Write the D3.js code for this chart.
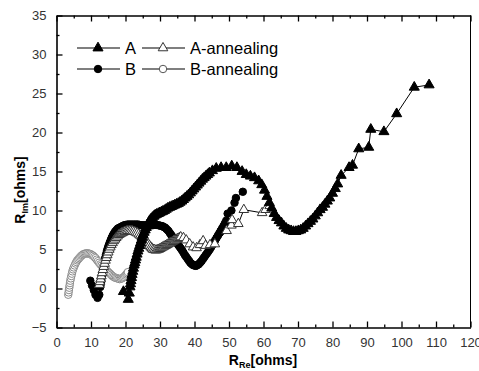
<!DOCTYPE html>
<html>
<head>
<meta charset="utf-8">
<script src="https://cdn.jsdelivr.net/npm/d3@7"></script>
<style>
  body { margin: 0; background: #fff; }
  svg { display: block; font-family: Arial, "Liberation Sans", sans-serif; }
</style>
</head>
<body>
<svg id="chart"></svg>
<script>
// data: [Re, Im]
const seriesA = [[19.4,-0.4],[20.8,-1.4],[21.1,-0.6],[21.3,0.2],[21.45,0.6],[21.6,1.0],[21.75,1.4],[21.9,1.8],[22.1,2.2],[22.3,2.6],[22.5,3.0],[22.7,3.3],[22.9,3.65],[23.1,4.0],[23.35,4.4],[23.6,4.8],[23.85,5.15],[24.1,5.5],[24.35,5.85],[24.6,6.2],[24.85,6.55],[25.1,6.9],[25.4,7.2],[25.7,7.5],[26.0,7.8],[26.3,8.1],[26.65,8.4],[27.0,8.7],[27.4,8.9],[27.8,9.1],[28.2,9.25],[28.6,9.4],[29.0,9.5],[29.5,9.6],[29.9,9.7],[30.4,9.8],[30.85,9.9],[31.3,10.0],[31.8,10.15],[32.3,10.3],[32.8,10.4],[33.3,10.5],[33.8,10.6],[34.3,10.7],[34.8,10.8],[35.3,10.9],[35.8,11.05],[36.3,11.2],[36.8,11.4],[37.3,11.6],[37.8,11.8],[38.3,12.0],[38.8,12.25],[39.3,12.5],[39.8,12.75],[40.3,13.0],[40.8,13.25],[41.3,13.5],[41.8,13.75],[42.3,14.0],[42.8,14.2],[43.3,14.4],[43.8,14.6],[44.3,14.8],[45.2,15.1],[46.3,15.4],[47.7,15.5],[49.2,15.5],[50.8,15.7],[52.3,15.5],[53.8,15.0],[55.0,14.6],[56.2,14.4],[57.4,14.2],[58.6,13.8],[59.5,13.3],[60.3,12.6],[61.0,11.8],[61.7,11.0],[62.4,10.3],[63.1,9.6],[63.8,9.1],[64.5,8.7],[65.2,8.4],[65.9,8.0],[66.6,7.7],[67.3,7.5],[68.0,7.4],[68.7,7.3],[69.4,7.3],[70.1,7.4],[70.8,7.5],[71.5,7.7],[72.2,8.0],[72.9,8.3],[73.6,8.6],[74.3,8.9],[75.0,9.3],[75.7,9.7],[76.4,10.1],[77.1,10.4],[77.8,10.8],[78.5,11.2],[79.2,11.6],[80.0,12.2],[80.8,12.8],[81.5,13.4],[82.5,14.5],[84.8,15.5],[85.8,15.8],[87.6,17.9],[90.5,18.1],[91.1,20.4],[94.9,20.1],[98.6,22.4],[103.7,25.8],[108.0,26.1]];

const seriesB = [[9.8,1.0],[10.3,0.4],[10.8,-0.2],[11.3,-0.8],[11.9,-1.2],[12.4,-0.8],[12.7,0.2],[12.85,0.6],[13.0,1.0],[13.15,1.5],[13.3,2.0],[13.5,2.5],[13.7,3.0],[13.9,3.45],[14.1,3.9],[14.35,4.35],[14.6,4.8],[14.85,5.15],[15.1,5.5],[15.4,5.85],[15.7,6.2],[16.0,6.5],[16.3,6.8],[16.65,7.05],[17.0,7.3],[17.4,7.5],[17.8,7.7],[18.25,7.8],[18.7,7.9],[19.15,8.0],[19.6,8.1],[20.1,8.15],[20.6,8.2],[21.1,8.2],[21.6,8.2],[22.1,8.2],[22.6,8.2],[23.1,8.2],[23.6,8.2],[24.1,8.15],[24.6,8.1],[25.1,8.1],[25.6,8.1],[26.1,8.1],[26.6,8.1],[27.1,8.1],[27.6,8.1],[28.1,8.15],[28.6,8.2],[29.1,8.15],[29.6,8.1],[30.1,8.05],[30.6,8.0],[31.05,7.9],[31.5,7.8],[31.95,7.6],[32.4,7.4],[32.8,7.15],[33.2,6.9],[33.6,6.65],[34.0,6.4],[34.4,6.15],[34.8,5.9],[35.2,5.65],[35.6,5.4],[36.0,5.15],[36.4,4.9],[36.8,4.6],[37.2,4.3],[37.6,4.05],[38.0,3.8],[38.4,3.55],[38.8,3.3],[39.2,3.15],[39.6,3.0],[40.0,2.95],[40.4,2.9],[40.8,3.0],[41.2,3.1],[41.6,3.3],[42.0,3.5],[42.4,3.75],[42.8,4.0],[43.2,4.25],[43.6,4.5],[44.0,4.75],[44.4,5.0],[44.8,5.3],[45.2,5.6],[45.6,5.9],[46.0,6.2],[46.4,6.5],[46.8,6.8],[47.2,7.1],[47.6,7.4],[48.0,7.7],[48.4,8.0],[48.8,8.35],[49.2,8.7],[49.6,9.6],[50.7,10.0],[51.6,11.0],[52.0,11.6],[54.0,12.4]];

const seriesAann = [[12.4,0.5],[12.6,0.85],[12.8,1.2],[13.0,1.6],[13.2,2.0],[13.45,2.4],[13.7,2.8],[13.95,3.2],[14.2,3.6],[14.45,3.95],[14.7,4.3],[15.0,4.65],[15.3,5.0],[15.6,5.3],[15.9,5.6],[16.25,5.85],[16.6,6.1],[16.95,6.3],[17.3,6.5],[17.7,6.7],[18.1,6.9],[18.5,7.0],[18.9,7.1],[19.35,7.2],[19.8,7.3],[20.25,7.35],[20.7,7.4],[21.15,7.4],[21.6,7.4],[22.05,7.35],[22.5,7.3],[22.95,7.2],[23.4,7.1],[23.85,6.95],[24.3,6.8],[24.7,6.65],[25.1,6.5],[25.5,6.3],[25.9,6.1],[26.25,5.9],[26.6,5.7],[26.95,5.5],[27.3,5.3],[27.65,5.15],[28.0,5.0],[28.4,4.95],[28.8,4.9],[29.2,4.95],[29.6,5.0],[30.0,5.1],[30.4,5.2],[30.8,5.3],[31.2,5.4],[31.6,5.5],[32.0,5.6],[32.4,5.7],[32.8,5.8],[33.2,5.9],[33.6,6.0],[34.0,6.1],[34.4,6.2],[34.8,6.3],[35.2,6.4],[35.6,6.5],[36.0,6.6],[36.8,6.5],[37.6,6.2],[38.6,5.7],[39.6,5.3],[40.6,5.2],[41.6,5.6],[42.5,6.1],[43.2,5.5],[44.5,5.6],[45.9,5.7],[49.3,7.4],[50.7,8.1],[50.9,8.8],[52.7,8.3],[54.3,10.1],[59.6,9.7],[60.6,10.1],[61.8,10.6]];

const seriesBann = [[3.4,-0.8],[3.5,-0.5],[3.6,-0.2],[3.7,0.1],[3.8,0.4],[3.9,0.7],[4.0,1.0],[4.15,1.3],[4.3,1.6],[4.45,1.9],[4.6,2.2],[4.8,2.45],[5.0,2.7],[5.25,2.95],[5.5,3.2],[5.75,3.4],[6.0,3.6],[6.3,3.75],[6.6,3.9],[6.9,4.05],[7.2,4.2],[7.5,4.3],[7.8,4.4],[8.15,4.45],[8.5,4.5],[8.85,4.5],[9.2,4.5],[9.55,4.45],[9.9,4.4],[10.25,4.3],[10.6,4.2],[10.95,4.05],[11.3,3.9],[11.65,3.7],[12.0,3.5],[12.35,3.3],[12.7,3.1],[13.05,2.95],[13.4,2.8],[13.75,2.65],[14.1,2.5],[14.45,2.35],[14.8,2.2],[15.15,2.05],[15.5,1.9],[15.85,1.75],[16.2,1.6],[16.55,1.5],[16.9,1.4],[17.25,1.35],[17.6,1.3],[17.95,1.25],[18.3,1.2],[18.65,1.25],[19.0,1.3],[19.3,1.4],[19.6,1.5],[19.9,1.65],[20.2,1.8],[20.45,1.95],[20.7,2.1]];

const xTicks = [0, 10, 20, 30, 40, 50, 60, 70, 80, 90, 100, 110, 120];
const yTicks = [-5, 0, 5, 10, 15, 20, 25, 30, 35];

const margin = {t: 15.5, r: 8.5, b: 43.5, l: 56.5};
const size = {w: 479, h: 371};
const svg = d3.select('svg#chart')
    .attr('width', size.w)
    .attr('height', size.h);

const w = size.w - margin.l - margin.r;
const h = size.h - margin.t - margin.b;

const x = d3.scaleLinear().domain([0, 120]).range([0, w]);
const y = d3.scaleLinear().domain([-5, 35]).range([h, 0]);

const g = svg.append('g')
    .attr('transform', `translate(${margin.l}, ${margin.t})`);

// series styles
const styles = [
    {name: 'B', data: seriesB, shape: d3.symbolCircle, size: 44, fill: '#000', stroke: '#000'},
    {name: 'B-annealing', data: seriesBann, shape: d3.symbolCircle, size: 44, fill: '#fff', stroke: '#8a8a8a'},
    {name: 'A-annealing', data: seriesAann, shape: d3.symbolTriangle, size: 40, fill: '#fff', stroke: '#333'},
    {name: 'A', data: seriesA, shape: d3.symbolTriangle, size: 44, fill: '#000', stroke: '#000'}
];

const line = d3.line().x(d => x(d[0])).y(d => y(d[1]));

styles.forEach(s => {
    g.append('path')
        .datum(s.data)
        .attr('d', line)
        .attr('fill', 'none')
        .attr('stroke', '#000')
        .attr('stroke-width', 1);

    g.append('g')
        .selectAll('path')
        .data(s.data)
        .join('path')
        .attr('transform', d => `translate(${x(d[0])}, ${y(d[1])})`)
        .attr('d', d3.symbol().type(s.shape).size(s.size))
        .attr('fill', s.fill)
        .attr('stroke', s.stroke)
        .attr('stroke-width', 1);
});

// axes: ticks pointing inward
const xMinor = d3.range(5, 120, 10);
const yMinor = d3.range(-2.5, 35, 5);

g.append('g')
    .attr('transform', `translate(0, ${h})`)
    .call(d3.axisBottom(x).tickValues(xTicks).tickSizeInner(-6).tickSizeOuter(0).tickPadding(10))
    .call(a => a.selectAll('text').attr('fill', '#333').style('font-size', '13px'));

g.append('g')
    .attr('transform', `translate(0, ${h})`)
    .call(d3.axisBottom(x).tickValues(xMinor).tickSize(-3).tickFormat(''))
    .call(a => a.select('.domain').remove());

g.append('g')
    .call(d3.axisTop(x).tickValues(xTicks).tickSizeInner(-6).tickSizeOuter(0).tickFormat(''));

g.append('g')
    .call(d3.axisTop(x).tickValues(xMinor).tickSize(-3).tickFormat(''))
    .call(a => a.select('.domain').remove());

g.append('g')
    .call(d3.axisLeft(y).tickValues(yTicks).tickSizeInner(-6).tickSizeOuter(0).tickPadding(10))
    .call(a => a.selectAll('text').attr('fill', '#333').style('font-size', '13px'));

g.append('g')
    .call(d3.axisLeft(y).tickValues(yMinor).tickSize(-3).tickFormat(''))
    .call(a => a.select('.domain').remove());

g.append('line')
    .attr('x1', w).attr('x2', w)
    .attr('y1', 0).attr('y2', h)
    .attr('stroke', '#000');

g.selectAll('.domain').attr('stroke-width', 1.6);
g.selectAll('.tick line').attr('stroke-width', 1.3);

// axis titles
const xTitle = svg.append('text')
    .attr('x', 263)
    .attr('y', 365)
    .attr('text-anchor', 'middle')
    .style('font-size', '14px')
    .style('font-weight', 'bold');
xTitle.append('tspan').text('R');
xTitle.append('tspan').attr('dy', 3).style('font-size', '9px').text('Re');
xTitle.append('tspan').attr('dy', -3).text('[ohms]');

const yTitle = svg.append('text')
    .attr('transform', 'translate(25, 190) rotate(-90)')
    .attr('text-anchor', 'middle')
    .style('font-size', '14px')
    .style('font-weight', 'bold');
yTitle.append('tspan').text('R');
yTitle.append('tspan').attr('dy', 3).style('font-size', '9px').text('Im');
yTitle.append('tspan').attr('dy', -3).text('[ohms]');

// legend
const legendItems = [
    {name: 'A', style: styles[3], lx: 77, ly: 48},
    {name: 'A-annealing', style: styles[2], lx: 142, ly: 48},
    {name: 'B', style: styles[0], lx: 77, ly: 69},
    {name: 'B-annealing', style: styles[1], lx: 142, ly: 69}
];

const legend = svg.append('g');
legendItems.forEach(d => {
    legend.append('line')
        .attr('x1', d.lx).attr('x2', d.lx + 43)
        .attr('y1', d.ly).attr('y2', d.ly)
        .attr('stroke', '#000')
        .attr('stroke-width', 1.2);
    legend.append('path')
        .attr('transform', `translate(${d.lx + 21}, ${d.ly})`)
        .attr('d', d3.symbol().type(d.style.shape).size(d.style.size))
        .attr('fill', d.style.fill)
        .attr('stroke', d.name == 'B-annealing' ? '#555' : d.style.stroke);
    legend.append('text')
        .attr('x', d.lx + 48)
        .attr('y', d.ly + 6)
        .style('font-size', '16.5px')
        .text(d.name);
});
</script>
</body>
</html>
